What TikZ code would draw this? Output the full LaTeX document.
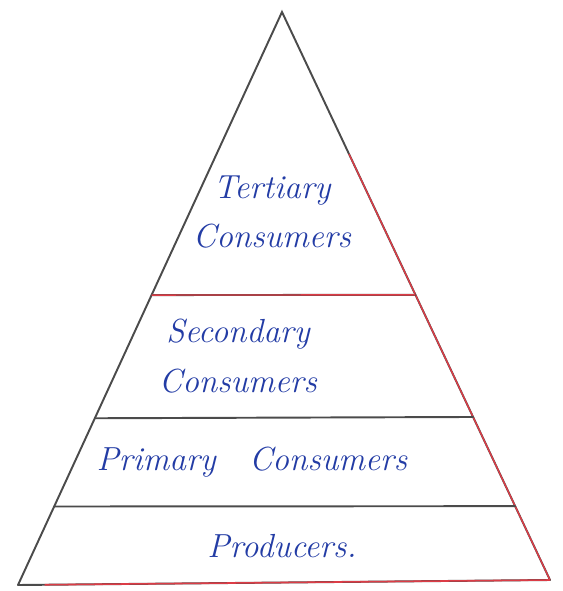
\documentclass[tikz,border=0pt]{standalone}
\usepackage{tikz}
\usetikzlibrary{calc}
\definecolor{ink}{RGB}{35,60,165}
\definecolor{pencil}{RGB}{75,75,75}
\definecolor{redpen}{RGB}{220,60,70}
\tikzset{
  level/.style={font=\itshape\fontsize{19}{24}\selectfont, text=ink, align=center},
  side/.style={pencil, line width=1.1pt, line cap=round},
}

\begin{document}
\begin{tikzpicture}[x=0.02cm, y=-0.02cm]
\useasboundingbox (0,0) rectangle (562,591);

% 頂点と底辺
\coordinate (apex) at (282,12);
\coordinate (bl) at (18,585);
\coordinate (br) at (550,580);

% 各層の境界
\coordinate (l1) at ($(apex)!0.494!(bl)$);
\coordinate (r1) at ($(apex)!0.498!(br)$);
\coordinate (l2) at ($(apex)!0.709!(bl)$);
\coordinate (r2) at ($(apex)!0.713!(br)$);
\coordinate (l3) at ($(apex)!0.863!(bl)$);
\coordinate (r3) at ($(apex)!0.870!(br)$);

% 三角形
\draw[side] (bl) -- (apex) -- (br);
\draw[redpen, line width=0.8pt] ($(apex)!0.25!(br)$) -- (br);
\draw[side] (l1) -- (r1);
\draw[redpen, line width=0.8pt] (l1) -- (r1);
\draw[side] (l2) -- (r2);
\draw[side] (l3) -- (r3);
\draw[side] (bl) -- (br);
\draw[redpen, line width=0.9pt] ($(bl)!0.05!(br)$) -- (br);

% 層の名前
\node[level] (tert) at (272,212) {Tertiary\\[4pt]Consumers};
\node[level] (sec) at (238,356) {Secondary\\[4pt]Consumers};
\node[level] (prim) at (252,462) {Primary\quad Consumers};
\node[level] (prod) at (282,546) {Producers.};

\end{tikzpicture}
\end{document}
